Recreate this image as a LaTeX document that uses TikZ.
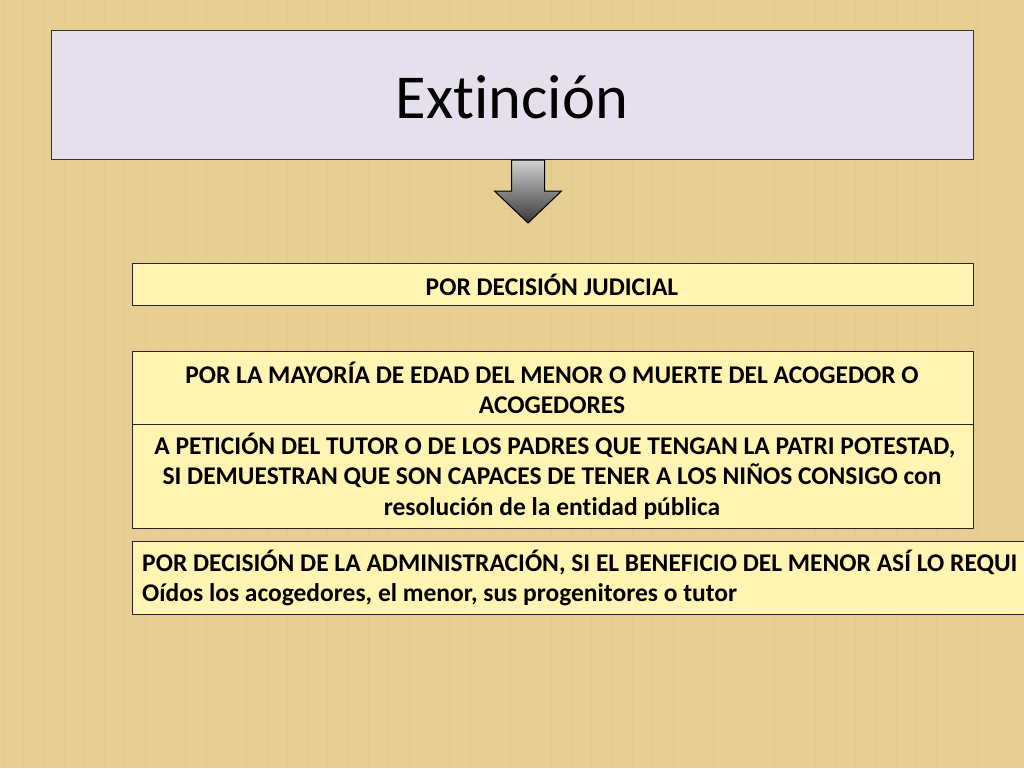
\documentclass[tikz,border=0pt]{standalone}
\usepackage{fontspec}
\setmainfont{Carlito}[Ligatures=NoCommon]
\begin{document}
\begin{tikzpicture}[x=1pt,y=-1pt,
  titlebox/.style={draw=black!80, line width=1pt, fill=titlefill, anchor=north west, inner sep=0pt},
  itembox/.style={draw=black!85, line width=1pt, fill=itemfill, anchor=north west, inner sep=0pt},
  itemtext/.style={font=\fontsize{25.5}{30}\selectfont\bfseries, align=center, inner sep=0pt},
]
\definecolor{bgtan}{RGB}{231,206,146}
\definecolor{titlefill}{RGB}{230,224,236}
\definecolor{itemfill}{RGB}{255,244,178}
\useasboundingbox (0,0) rectangle (1024,768);
\clip (0,0) rectangle (1024,768);
\fill[bgtan] (0,0) rectangle (1024,768);
% subtle texture
\foreach \i in {0,...,50} {
  \draw[bgtan!80!brown, opacity=0.25, line width=0.8pt] ({\i*20.3+3},0) -- ({\i*20.3+3},768);
}
\foreach \j in {0,...,38} {
  \draw[bgtan!80!brown, opacity=0.2, line width=0.8pt] (0,{\j*20.1+7}) -- (1024,{\j*20.1+7});
}
\node[titlebox, minimum width=922pt, minimum height=129pt] (title) at (51,30) {};
\node[font=\fontsize{62.5}{66}\selectfont, inner sep=0pt] (titletext) at (512,97) {Extinción};
% block arrow
\coordinate (ar) at ([xshift=15.5pt]title.south);
\draw[black, line width=1pt, top color=black!18, bottom color=black!78]
  ([xshift=-16.5pt]ar) -- ++(0,31) -- ++(-17,0) -- ([yshift=-63pt]ar)
  -- ([xshift=33.5pt,yshift=-31pt]ar) -- ++(-17,0) -- ([xshift=16.5pt]ar) -- cycle;
\node[itembox, minimum width=841pt, minimum height=42pt] (b1) at (132,263) {};
\node[itemtext] (t1) at (552,285) {POR DECISIÓN JUDICIAL};
\node[itembox, minimum width=841pt, minimum height=73pt] (b2) at (132,351) {};
\node[itemtext, font=\fontsize{25.5}{29.5}\selectfont\bfseries] (t2) at (552,388)
  {POR LA MAYORÍA DE EDAD DEL MENOR O MUERTE DEL ACOGEDOR O\\ACOGEDORES};
\node[itembox, minimum width=841pt, minimum height=104pt] (b3) at (132,424) {};
\node[itemtext, font=\fontsize{25.5}{30.5}\selectfont\bfseries] (t3) at (552,476)
  {\ A PETICIÓN DEL TUTOR O DE LOS PADRES QUE TENGAN LA PATRI POTESTAD,\\SI DEMUESTRAN QUE SON CAPACES DE TENER A LOS NIÑOS CONSIGO con\\resolución de la entidad pública};
\node[itembox, minimum width=920pt, minimum height=73pt] (b4) at (132,541) {};
\node[itemtext, align=left, anchor=west] (t4) at (142,578)
  {POR DECISIÓN DE LA ADMINISTRACIÓN, SI EL BENEFICIO DEL MENOR ASÍ LO REQUI\\Oídos los acogedores, el menor, sus progenitores o tutor};
\end{tikzpicture}
\end{document}
